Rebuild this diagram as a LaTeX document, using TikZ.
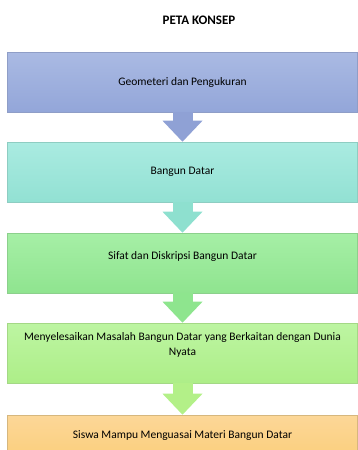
\documentclass[tikz,border=0pt]{standalone}
\usepackage{fontspec}
\setmainfont{Carlito}
\usetikzlibrary{arrows.meta}
\definecolor{blauo}{HTML}{AABAE3}
\definecolor{blauu}{HTML}{93A6D9}
\definecolor{tuerko}{HTML}{AAEBE1}
\definecolor{tuerku}{HTML}{92E1D3}
\definecolor{grueno}{HTML}{A6EFA6}
\definecolor{gruenu}{HTML}{8FE48F}
\definecolor{limo}{HTML}{BDF5A2}
\definecolor{limu}{HTML}{ADEE88}
\definecolor{orango}{HTML}{FCD798}
\definecolor{orangu}{HTML}{FBCF7D}
\definecolor{pblau}{HTML}{8FA1D5}
\definecolor{ptuerk}{HTML}{8EE0CF}
\definecolor{pgruen}{HTML}{8EE58E}
\definecolor{plim}{HTML}{B3F088}
\tikzset{
  kasten/.style={minimum width=350pt,minimum height=60pt,inner sep=2pt,
    font=\fontsize{11.5}{14.6}\selectfont,align=center,line width=0.6pt},
  pfeil/.style={line width=20pt,-{Triangle[width=40pt,length=21pt,line width=0pt]}},
  titel/.style={font=\fontsize{13}{15}\selectfont\bfseries},
}
\begin{document}
\begin{tikzpicture}[x=1pt,y=-1pt]
  \useasboundingbox (0,0) rectangle (358,450);
  \clip (0,0) rectangle (358,450);
  \node[titel] (titel) at (199,20) {PETA KONSEP};
  \node[kasten,top color=blauo,bottom color=blauu,draw=blauu!80!gray] (geo) at (182.5,82) {Geometeri dan Pengukuran};
  \node[kasten,top color=tuerko,bottom color=tuerku,draw=tuerku!80!gray] (bangun) at (182.5,172) {Bangun Datar};
  \node[kasten,top color=grueno,bottom color=gruenu,draw=gruenu!80!gray,text depth=14pt] (sifat) at (182.5,263) {Sifat dan Diskripsi Bangun Datar};
  \node[kasten,top color=limo,bottom color=limu,draw=limu!80!gray,text depth=18pt] (masalah) at (182.5,353) {Menyelesaikan Masalah Bangun Datar yang Berkaitan dengan Dunia\\Nyata};
  \node[kasten,minimum height=42pt,top color=orango,bottom color=orangu,draw=orangu!70!gray] (siswa) at (182.5,436) {Siswa Mampu Menguasai Materi Bangun Datar};
  \draw[pfeil,pblau] (geo.south) -- (bangun.north);
  \draw[pfeil,ptuerk] (bangun.south) -- (sifat.north);
  \draw[pfeil,pgruen] (sifat.south) -- (masalah.north);
  \draw[pfeil,plim] (masalah.south) -- (siswa.north);
\end{tikzpicture}
\end{document}
